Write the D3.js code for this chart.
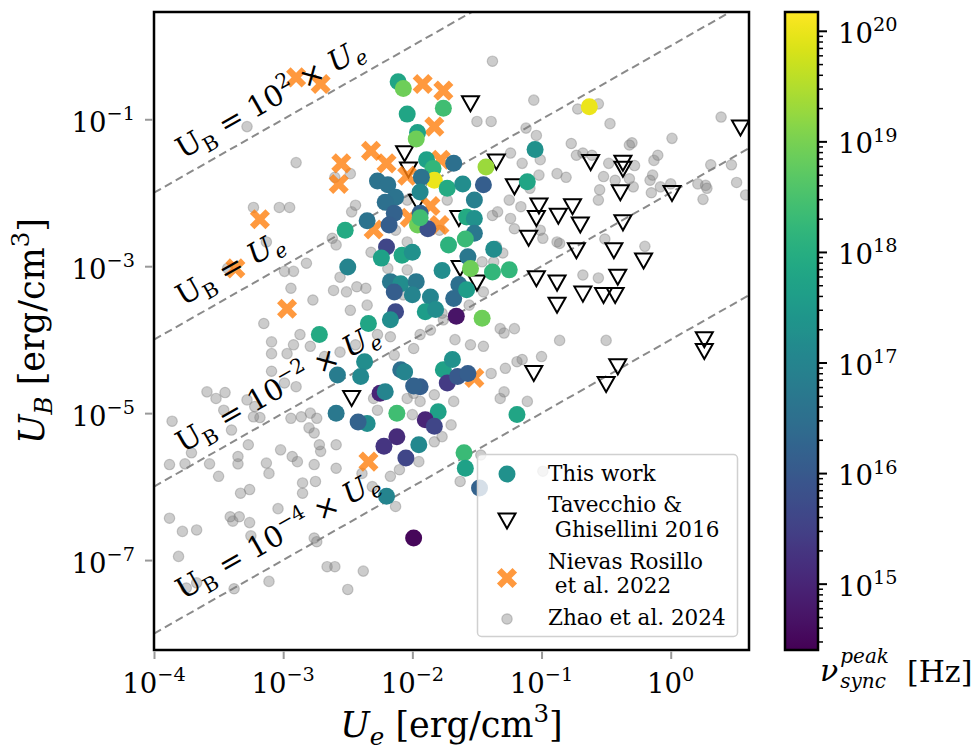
<!DOCTYPE html>
<html><head><meta charset="utf-8">
<script src="https://cdn.jsdelivr.net/npm/d3@7"></script>
<style>
body{margin:0;background:#fff}
svg{display:block}
text{font-family:"DejaVu Serif",serif;fill:#000;white-space:pre}
</style>
</head><body>
<svg id="chart" width="979" height="750"></svg>
<script>
// ---------------- DATA (log10 values) ----------------
// This work: log10 Ue, log10 UB, log10 nu_sync_peak
const thisWorkLogUe = [-2.11,-2.07,-2.04,-1.76,-1.96,-1.97,-1.05,-1.89,-1.68,-1.43,-1.84,-1.83,-2.27,-2.19,-1.93,-1.73,-1.61,-1.45,-1.11,-1.94,-1.52,-2.13,-2.21,-2.14,-2.35,-1.94,-2.18,-1.96,-1.88,-1.94,-1.58,-1.52,-1.52,-1.59,-1.72,-2.20,-2.24,-2.08,-2.00,-1.37,-1.57,-1.55,-1.38,-1.25,-1.77,-1.64,-2.17,-2.09,-1.97,-2.14,-2.00,-1.86,-1.68,-1.58,-1.90,-1.82,-2.13,-2.17,-2.34,-1.66,-1.46,-2.52,-2.50,-2.72,-2.58,-2.59,-2.37,-2.40,-2.09,-2.06,-1.94,-1.99,-1.76,-1.69,-1.73,-1.65,-1.57,-2.25,-2.21,-2.12,-2.35,-2.42,-1.80,-1.90,-1.83,-1.19,-2.12,-2.22,-1.95,-2.05,-1.60,-1.59,-1.48,-2.20,-1.99,-0.63];
const thisWorkLogUB = [-0.49,-0.58,-0.93,-0.85,-1.18,-1.27,-1.41,-1.55,-1.60,-1.65,-1.67,-1.83,-1.84,-1.89,-1.79,-1.94,-1.88,-1.89,-1.85,-1.99,-2.10,-2.06,-2.13,-2.28,-2.38,-2.28,-2.44,-2.44,-2.49,-2.34,-2.33,-2.35,-2.55,-2.63,-2.71,-2.74,-2.89,-2.85,-2.81,-2.77,-2.87,-3.03,-3.08,-3.05,-3.06,-3.25,-3.21,-3.24,-3.21,-3.35,-3.39,-3.42,-3.44,-3.32,-3.62,-3.59,-3.62,-3.73,-3.78,-3.68,-3.71,-2.51,-3.01,-3.93,-4.48,-5.00,-4.30,-4.50,-4.41,-4.44,-4.64,-4.63,-4.41,-4.27,-4.59,-4.50,-4.46,-4.73,-4.71,-5.00,-5.14,-5.12,-4.98,-5.09,-5.18,-5.02,-5.32,-5.45,-5.43,-5.61,-5.54,-5.75,-6.02,-6.13,-6.70,-0.83];
const thisWorkLogNu = [17.8,18.9,17.8,18.4,17.7,18.9,17.3,17.7,16.5,19.3,18.2,20.0,16.6,16.6,16.6,17.9,17.2,16.1,17.8,17.1,16.9,16.6,16.5,16.2,16.6,16.2,16.1,18.9,15.8,18.4,17.9,17.3,16.7,18.3,18.1,15.6,17.7,17.8,17.3,17.2,16.7,18.9,18.2,18.2,17.2,16.5,16.7,17.2,16.7,16.1,17.0,17.0,16.4,17.6,17.6,17.2,15.7,17.2,17.8,14.7,18.9,17.9,17.0,17.9,16.8,16.7,17.2,17.1,16.5,17.0,16.1,16.2,17.7,17.3,15.4,16.0,16.1,15.0,17.0,18.4,17.2,16.2,17.7,15.0,15.6,17.8,15.1,15.3,17.1,15.6,18.3,17.7,16.2,17.0,14.5,20.0];

// Tavecchio & Ghisellini 2016
const tavecchioLogUe = [-1.55,-2.06,-2.03,-1.35,-1.21,-1.96,-1.64,-1.02,-1.04,-0.87,-0.76,-0.70,-1.10,-0.62,-0.37,-0.37,-0.39,0.01,-0.37,-0.73,-0.44,-0.21,-1.04,-0.88,-0.88,-0.68,-0.52,-0.43,-0.41,-1.63,-1.50,0.54,-1.06,-2.47,-0.41,-0.50,0.26,0.26];
const tavecchioLogUB = [-0.79,-1.47,-1.69,-1.58,-1.92,-2.13,-2.35,-2.18,-2.35,-2.32,-2.19,-2.44,-2.62,-1.59,-1.60,-1.68,-2.00,-2.01,-2.41,-2.79,-2.79,-2.93,-3.17,-3.23,-3.53,-3.38,-3.40,-3.40,-3.15,-3.03,-3.23,-1.12,-4.46,-4.80,-4.37,-4.61,-4.00,-4.16];

// Nievas Rosillo et al. 2022
const nievasLogUe = [-2.90,-2.71,-2.55,-2.57,-3.18,-3.37,-2.97,-1.92,-1.76,-1.83,-2.32,-2.20,-2.04,-1.78,-1.86,-2.02,-1.79,-2.30,-1.52,-2.34];
const nievasLogUB = [-0.43,-0.52,-1.60,-1.88,-2.36,-3.03,-3.58,-0.52,-0.61,-1.10,-1.43,-1.60,-1.77,-1.55,-2.18,-2.34,-2.44,-2.50,-4.52,-5.66];

// Zhao et al. 2024
const zhaoLogUe = [-3.86,-3.88,-3.88,-3.81,-3.78,-3.75,-3.67,-3.67,-3.71,-3.76,-3.59,-3.52,-3.45,-3.46,-3.57,-3.50,-3.40,-3.28,-3.22,-3.35,-3.35,-3.33,-3.26,-3.41,-3.39,-3.34,-3.26,-3.25,-3.38,-3.27,-3.18,-3.23,-3.13,-3.11,-3.11,-3.04,-3.02,-2.93,-2.89,-2.99,-2.90,-3.09,-2.87,-2.92,-3.09,-2.97,-3.09,-2.94,-3.15,
 -3.28,-2.90,-3.23,-3.03,-2.95,-3.13,-3.43,-2.99,-2.92,-2.82,-2.94,-2.77,-2.60,-2.48,-2.47,-2.61,-2.51,-2.56,-2.59,-2.62,-2.48,
 -2.79,-2.68,-2.86,-2.79,-2.74,-2.80,-2.76,-2.72,-2.71,-2.59,-2.76,-2.59,-2.85,-2.75,-2.85,-2.76,-2.74,-2.66,-2.50,-2.60,-2.38,-2.56,-2.44,
 -2.44,-2.32,-2.19,-2.04,-2.43,-2.36,-2.35,-2.07,-1.56,-1.45,-1.77,-1.32,-1.21,-1.29,-2.04,-2.04,-1.73,-1.25,-1.16,-1.34,-1.38,-1.24,-1.21,-0.99,-1.01,-1.37,-1.46,-1.35,-1.30,-1.38,-1.06,-1.50,-1.39,-1.12,-1.04,-1.15,-1.02,-1.24,-1.09,-1.01,-0.77,-0.88,-0.81,-0.73,-0.68,-0.55,-0.56,-0.86,-0.51,-0.20,-0.68,-0.56,
 -2.17,-1.99,-1.45,-1.28,-1.19,-1.15,-1.39,-0.86,-0.50,-1.00,-1.29,-1.32,-1.11,-1.68,-1.83,-1.94,-1.99,-2.04,-2.14,-2.30,-2.27,-2.00,-1.70,-1.77,-1.83,-1.95,-2.10,-2.17,-2.39,-2.31,-1.63,-1.47,-2.13,-0.99,-1.76,-1.86,-2.27,-1.67,-1.55,-1.94,-2.13,-1.79,
 -0.72,-0.56,-0.47,0.39,0.01,-0.32,-0.30,-0.61,-0.48,-0.28,-0.52,-0.43,-0.32,-0.29,-0.14,-0.13,-0.10,-0.16,-0.15,-0.08,0.00,0.21,0.27,0.28,0.25,0.31,0.47,0.51,0.58,-0.88];
const zhaoLogUB = [-5.11,-5.70,-6.43,-6.95,-6.61,-7.38,-7.31,-6.59,-5.54,-5.69,-4.71,-4.80,-4.72,-4.96,-5.69,-5.86,-5.23,-4.82,-4.91,-5.69,-5.59,-6.09,-6.04,-6.41,-6.47,-6.41,-6.49,-6.67,-7.39,-5.43,-5.06,-5.05,-5.68,-5.82,-7.29,-6.30,-5.50,-5.59,-5.66,-4.59,-4.64,-4.03,-3.93,-4.07,-4.19,-4.19,-4.43,-5.07,-3.78,
 -1.10,-1.59,-2.20,-2.20,-2.20,-2.67,-3.03,-3.07,-3.07,-2.96,-3.30,-3.46,-1.79,-1.74,-2.26,-3.33,-3.35,-3.15,-2.71,-2.62,-3.60,
 -4.09,-4.23,-5.05,-5.00,-5.07,-5.20,-5.27,-5.43,-5.52,-5.43,-5.70,-5.75,-5.95,-5.93,-6.09,-6.70,-6.75,-7.09,-7.40,-7.09,-7.15,-4.17,-4.07,
 -2.17,-2.81,-3.03,-3.05,-3.28,-3.30,-3.53,-3.39,-3.53,-3.35,-3.64,-3.85,-3.85,-3.91,-2.67,-2.10,-2.10,-2.10,-2.19,-2.26,-2.31,-2.35,-2.49,-2.62,-2.51,-2.94,-2.94,-2.73,-2.82,-0.21,-0.74,-1.03,-1.03,-1.12,-1.22,-1.60,-1.76,-1.46,-1.94,-1.55,-1.33,-1.74,-1.79,-1.49,-1.46,-1.96,-2.10,-2.69,-2.63,-2.73,-3.12,-3.16,
 -3.96,-4.12,-4.09,-4.39,-4.30,-4.27,-4.46,-4.01,-4.01,-4.23,-4.71,-4.80,-4.84,-4.84,-4.75,-4.84,-4.73,-4.80,-4.21,-4.80,-4.96,-5.02,-5.16,-5.32,-5.39,-5.66,-5.77,-5.86,-5.82,-6.00,-5.93,-5.57,-6.27,-5.79,-3.73,-3.87,-3.93,-4.00,-4.07,-3.93,-2.51,-2.51,
 -0.86,-0.79,-1.06,-0.97,-1.26,-1.35,-1.32,-1.49,-1.60,-1.63,-1.78,-1.83,-1.81,-1.92,-1.76,-1.56,-1.49,-1.83,-2.00,-1.92,-1.88,-1.88,-1.90,-1.94,-2.09,-1.62,-1.62,-1.86,-2.03,-2.67];

// Reference lines U_B = k * U_e
const lineFactors = [1e2, 1, 1e-2, 1e-4];
const lineFactorExp = ["2", null, "−2", "−4"];

// Ticks
const xTickValues = [1e-4, 1e-3, 1e-2, 1e-1, 1];
const xTickExp = ["−4", "−3", "−2", "−1", "0"];
const yTickValues = [1e-1, 1e-3, 1e-5, 1e-7];
const yTickExp = ["−1", "−3", "−5", "−7"];
const cbTickValues = [1e15, 1e16, 1e17, 1e18, 1e19, 1e20];
const cbTickExp = ["15", "16", "17", "18", "19", "20"];

const legendLabels = [["This work"], ["Tavecchio &", " Ghisellini 2016"], ["Nievas Rosillo", " et al. 2022"], ["Zhao et al. 2024"]];

// ---------------- LAYOUT ----------------
const L = 154, R = 749, T = 12, B = 650;
const svg = d3.select("#chart");
const x = d3.scaleLog().domain([1e-4, Math.pow(10, 0.606)]).range([L, R]);
const y = d3.scaleLog().domain([Math.pow(10, -8.224), Math.pow(10, 0.46)]).range([B, T]);
const nuDomain = [Math.pow(10, 14.40), Math.pow(10, 20.17)];
const color = d3.scaleSequentialLog(d3.interpolateViridis).domain(nuDomain);
const p10 = v => Math.pow(10, v);
const TICK_FS = 27.5;

function rich(sel, segs, size) {
  let cur = 0;
  segs.forEach(s => {
    const target = s.sub ? 0.24 * size : (s.sup ? -0.42 * size : 0);
    const ts = sel.append("tspan").text(s.t)
      .attr("font-size", (s.sub || s.sup) ? size * 0.7 : size)
      .attr("dy", target - cur);
    if (s.it) ts.attr("font-style", "italic");
    cur = target;
  });
  return sel;
}

svg.append("defs").append("clipPath").attr("id", "clip")
  .append("rect").attr("x", L).attr("y", T).attr("width", R - L).attr("height", B - T);

const plotG = svg.append("g").attr("clip-path", "url(#clip)");

// dashed reference lines
lineFactors.forEach(k => {
  const xs = [1e-4, Math.pow(10, 0.606)];
  plotG.append("line")
    .attr("x1", x(xs[0])).attr("y1", y(k * xs[0]))
    .attr("x2", x(xs[1])).attr("y2", y(k * xs[1]))
    .attr("stroke", "#8a8a8a").attr("stroke-width", 2)
    .attr("stroke-dasharray", "8,4.5");
});

// Zhao gray points
plotG.append("g").selectAll("circle").data(zhaoLogUe.map((v, i) => [v, zhaoLogUB[i]]))
  .join("circle")
  .attr("cx", d => x(p10(d[0]))).attr("cy", d => y(p10(d[1])))
  .attr("r", 5.2)
  .attr("fill", "#808080").attr("fill-opacity", 0.4)
  .attr("stroke", "#808080").attr("stroke-opacity", 0.4).attr("stroke-width", 1.2);

// Tavecchio triangles
const triPath = "M0,7.5L-8.5,-7.5L8.5,-7.5Z";
plotG.append("g").selectAll("path").data(tavecchioLogUe.map((v, i) => [v, tavecchioLogUB[i]]))
  .join("path")
  .attr("d", triPath)
  .attr("transform", d => `translate(${x(p10(d[0]))},${y(p10(d[1]))})`)
  .attr("fill", "none").attr("stroke", "#000").attr("stroke-width", 2).attr("stroke-linejoin", "miter");

// Nievas X markers
function xMarkerPath(Lh, w) {
  const pts = [[w,w],[w,Lh],[-w,Lh],[-w,w],[-Lh,w],[-Lh,-w],[-w,-w],[-w,-Lh],[w,-Lh],[w,-w],[Lh,-w],[Lh,w]];
  const c = Math.SQRT1_2;
  return "M" + pts.map(p => [(p[0] - p[1]) * c, (p[0] + p[1]) * c].map(v => v.toFixed(2)).join(",")).join("L") + "Z";
}
const xPath = xMarkerPath(11, 3.2);
plotG.append("g").selectAll("path").data(nievasLogUe.map((v, i) => [v, nievasLogUB[i]]))
  .join("path")
  .attr("d", xPath)
  .attr("transform", d => `translate(${x(p10(d[0]))},${y(p10(d[1]))})`)
  .attr("fill", "#ff7f0e").attr("fill-opacity", 0.8);

// This work circles
plotG.append("g").selectAll("circle").data(thisWorkLogUe.map((v, i) => [v, thisWorkLogUB[i], thisWorkLogNu[i]]))
  .join("circle")
  .attr("cx", d => x(p10(d[0]))).attr("cy", d => y(p10(d[1])))
  .attr("r", 8.5)
  .attr("fill", d => color(p10(d[2])));

// line labels
const ang = Math.atan2(y(1e-2) - y(1e-4), x(1e-2) - x(1e-4)) * 180 / Math.PI;
lineFactors.forEach((k, i) => {
  const px = 183;
  const py = y(k * x.invert(px)) - 17;
  const segs = [{t: "U"}, {t: "B", sub: true}];
  if (lineFactorExp[i] === null) {
    segs.push({t: " = "});
  } else {
    segs.push({t: " = 10"}, {t: lineFactorExp[i], sup: true}, {t: " × "});
  }
  segs.push({t: "U", it: true}, {t: "e", sub: true, it: true});
  rich(svg.append("text").attr("transform", `translate(${px},${py}) rotate(${ang})`), segs, 29);
});

// frame
svg.append("rect").attr("x", L).attr("y", T).attr("width", R - L).attr("height", B - T)
  .attr("fill", "none").attr("stroke", "#000").attr("stroke-width", 2.5);

// axes
const xAxis = svg.append("g").attr("transform", `translate(0,${B})`)
  .call(d3.axisBottom(x).tickValues(xTickValues).tickFormat(() => "").tickSizeOuter(0).tickSize(9));
xAxis.select(".domain").remove();
xAxis.selectAll(".tick line").attr("stroke", "#999").attr("stroke-width", 2).attr("y1", 1.5);
xTickValues.forEach((v, i) => {
  rich(svg.append("text").attr("x", x(v)).attr("y", 693).attr("text-anchor", "middle"),
    [{t: "10"}, {t: xTickExp[i], sup: true}], TICK_FS);
});
const yAxis = svg.append("g").attr("transform", `translate(${L},0)`)
  .call(d3.axisLeft(y).tickValues(yTickValues).tickFormat(() => "").tickSizeOuter(0).tickSize(9));
yAxis.select(".domain").remove();
yAxis.selectAll(".tick line").attr("stroke", "#999").attr("stroke-width", 2).attr("x1", -1.5);
yTickValues.forEach((v, i) => {
  rich(svg.append("text").attr("x", 135).attr("y", y(v) + 12.5).attr("text-anchor", "end"),
    [{t: "10"}, {t: yTickExp[i], sup: true}], TICK_FS);
});

// axis labels
rich(svg.append("text").attr("text-anchor", "middle").attr("transform", `translate(${(L + R) / 2},737)`),
  [{t: "U", it: true}, {t: "e", it: true, sub: true}, {t: " [erg/cm"}, {t: "3", sup: true}, {t: "]"}], 35);
rich(svg.append("text").attr("text-anchor", "middle").attr("transform", `translate(44,${(T + B) / 2}) rotate(-90)`),
  [{t: "U", it: true}, {t: "B", it: true, sub: true}, {t: " [erg/cm"}, {t: "3", sup: true}, {t: "]"}], 35);

// legend
const lg = svg.append("g");
lg.append("rect").attr("x", 477.5).attr("y", 454.5).attr("width", 260).attr("height", 182).attr("rx", 4)
  .attr("fill", "#fff").attr("fill-opacity", 0.8).attr("stroke", "#d0d0d0").attr("stroke-width", 1.5);
lg.append("circle").attr("cx", 507).attr("cy", 474).attr("r", 8.5).attr("fill", d3.interpolateViridis(0.5));
lg.append("path").attr("d", triPath).attr("transform", "translate(507,521)")
  .attr("fill", "none").attr("stroke", "#000").attr("stroke-width", 2);
lg.append("path").attr("d", xPath).attr("transform", "translate(507,578)").attr("fill", "#ff7f0e").attr("fill-opacity", 0.8);
lg.append("circle").attr("cx", 507).attr("cy", 619).attr("r", 5.2)
  .attr("fill", "#808080").attr("fill-opacity", 0.4).attr("stroke", "#808080").attr("stroke-opacity", 0.4).attr("stroke-width", 1.2);
const legendBaselines = [[481], [512, 537], [569, 593], [625]];
legendLabels.forEach((lines, i) => {
  lines.forEach((s, j) => {
    lg.append("text").attr("x", 548).attr("y", legendBaselines[i][j]).attr("font-size", 21.5).text(s);
  });
});

// colorbar
const cbX = 785, cbW = 33;
const cb = d3.scaleLog().domain(nuDomain).range([B, T]);
const grad = svg.select("defs").append("linearGradient").attr("id", "vir")
  .attr("x1", 0).attr("y1", 1).attr("x2", 0).attr("y2", 0);
d3.range(0, 1.0001, 0.02).forEach(t => grad.append("stop").attr("offset", t).attr("stop-color", d3.interpolateViridis(t)));
svg.append("rect").attr("x", cbX).attr("y", T).attr("width", cbW).attr("height", B - T).attr("fill", "url(#vir)");
const minor = [];
for (let e = 14; e <= 20; e++) for (let m = 2; m <= 9; m++) {
  const v = m * Math.pow(10, e);
  if (v >= nuDomain[0] && v <= nuDomain[1]) minor.push(v);
}
const cbAxis = svg.append("g").attr("transform", `translate(${cbX + cbW},0)`);
cbAxis.call(d3.axisRight(cb).tickValues(minor).tickFormat(() => "").tickSize(5).tickSizeOuter(0));
cbAxis.call(g => g.select(".domain").remove());
cbAxis.selectAll(".tick line").attr("stroke", "#000").attr("stroke-width", 1.5);
const cbMajor = svg.append("g").attr("transform", `translate(${cbX + cbW},0)`)
  .call(d3.axisRight(cb).tickValues(cbTickValues).tickFormat(() => "").tickSize(9).tickSizeOuter(0));
cbMajor.select(".domain").remove();
cbMajor.selectAll(".tick line").attr("stroke", "#000").attr("stroke-width", 2);
cbTickValues.forEach((v, i) => {
  rich(svg.append("text").attr("x", 838).attr("y", cb(v) + 12),
    [{t: "10"}, {t: cbTickExp[i], sup: true}], TICK_FS);
});
svg.append("rect").attr("x", cbX).attr("y", T).attr("width", cbW).attr("height", B - T)
  .attr("fill", "none").attr("stroke", "#000").attr("stroke-width", 2.5);

// colorbar label
const nu = svg.append("text").attr("x", 820).attr("y", 681).attr("font-size", 30).attr("font-style", "italic").text("ν");
const nuW = nu.node().getComputedTextLength();
const s1 = svg.append("text").attr("x", 820 + nuW + 2).attr("y", 663).attr("font-size", 20).attr("font-style", "italic").text("peak");
const s2 = svg.append("text").attr("x", 820 + nuW + 2).attr("y", 688).attr("font-size", 20).attr("font-style", "italic").text("sync");
svg.append("text").attr("x", 907).attr("y", 682).attr("font-size", 30).text("[Hz]");
</script>
</body></html>
